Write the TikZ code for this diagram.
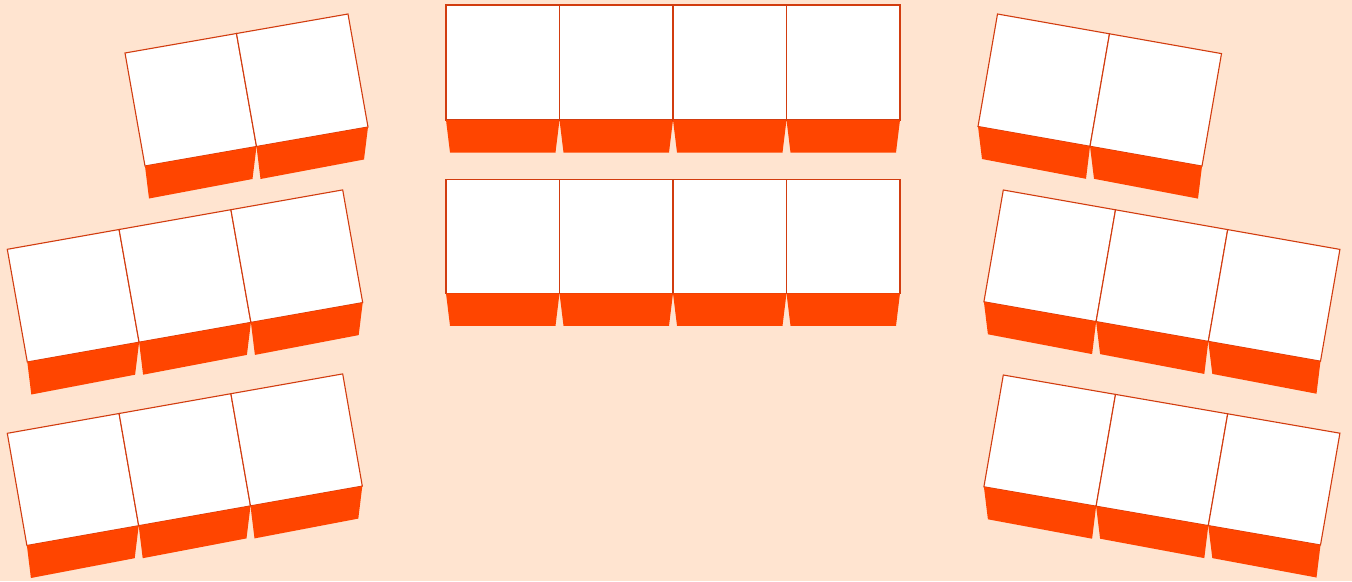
\documentclass[tikz,border=0pt]{standalone}
\usetikzlibrary{calc}
\definecolor{bgcol}{RGB}{255,228,208}
\definecolor{frontcol}{RGB}{255,69,0}
\definecolor{edgecol}{RGB}{210,60,15}
\tikzset{
  seattop/.style={fill=white,draw=edgecol,line width=1.1pt,line join=miter},
  seatfront/.style={fill=frontcol,draw=none}
}
% #1 TLx, #2 TLy, #3 ux, #4 uy, #5 dx, #6 dy, #7 number of seats
\newcommand\seatrow[7]{%
  \foreach \i in {1,...,#7}{%
    \pgfmathsetmacro\ax{#1+(\i-1)*#3}%
    \pgfmathsetmacro\ay{#2+(\i-1)*#4}%
    \coordinate (tl) at (\ax,\ay);
    \coordinate (tr) at ($(tl)+(#3,#4)$);
    \coordinate (br) at ($(tr)+(#5,#6)$);
    \coordinate (bl) at ($(tl)+(#5,#6)$);
    \draw[seattop] (tl) -- (tr) -- (br) -- (bl) -- cycle;
    \fill[seatfront] (bl) -- (br) -- ($(br)+(-4,32.5)$) -- ($(bl)+(4,32.5)$) -- cycle;
  }%
}
\begin{document}
\begin{tikzpicture}[x=1pt,y=-1pt]
\useasboundingbox (0,0) rectangle (1352,581);
\fill[bgcol] (0,0) rectangle (1352,581);
% middle block
\seatrow{446}{5}{113.5}{0}{0}{115}{4}
\seatrow{446}{179.3}{113.5}{0}{0}{114}{4}
% left blocks
\seatrow{125}{53}{111.5}{-19.5}{20}{113}{2}
\seatrow{7.3}{249.3}{111.8}{-19.8}{20}{112.7}{3}
\seatrow{7.3}{433.3}{111.8}{-19.8}{19.6}{112.2}{3}
% right blocks
\seatrow{997.5}{14}{112}{19.8}{-19.5}{112.5}{2}
\seatrow{1003.3}{190}{112.2}{19.8}{-19.4}{111.8}{3}
\seatrow{1003.3}{375}{112.2}{19.4}{-19.4}{111.8}{3}
\end{tikzpicture}
\end{document}
